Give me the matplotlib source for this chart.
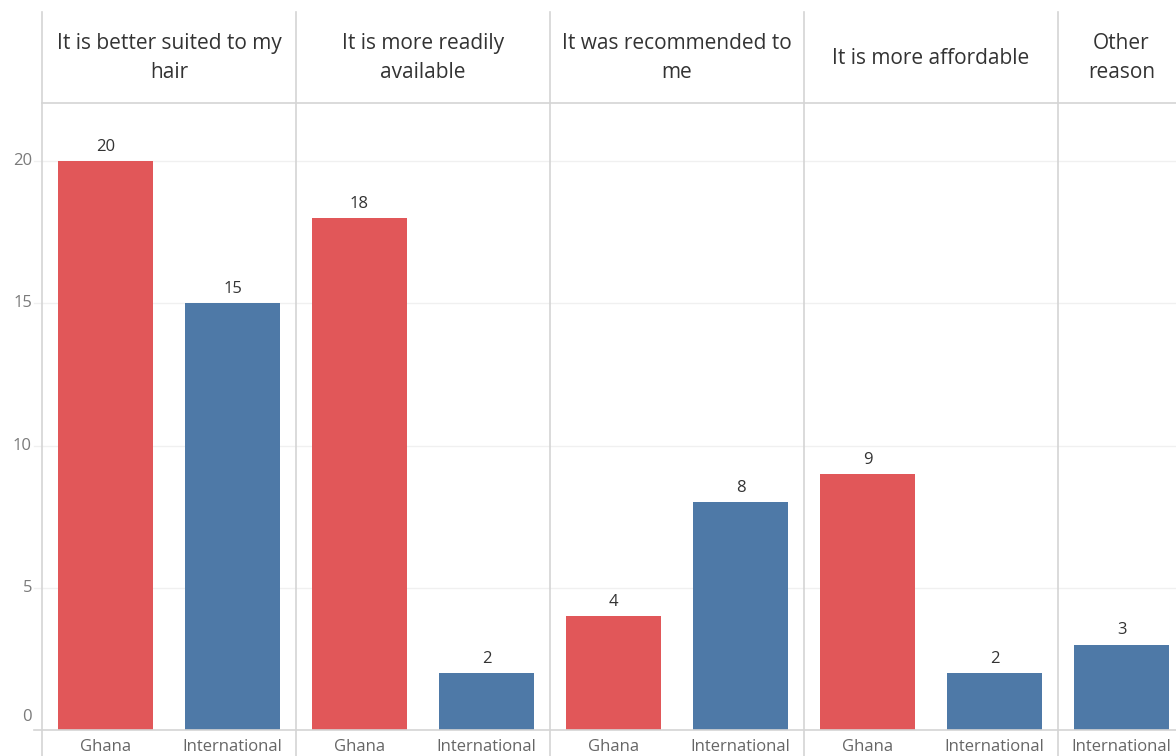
import matplotlib
matplotlib.use("Agg")
import matplotlib.pyplot as plt
from matplotlib.lines import Line2D
from matplotlib.transforms import offset_copy

plt.rcParams['font.family'] = ['Open Sans', 'DejaVu Sans']

# ---- data ----
reasons = ["It is better suited to my hair", "It is more readily available",
           "It was recommended to me", "It is more affordable", "Other reason"]
header_labels = ["It is better suited to my\nhair", "It is more readily\navailable",
                 "It was recommended to\nme", "It is more affordable", "Other\nreason"]
origins = ["Ghana", "International"]
ghana = [20, 18, 4, 9, None]
international = [15, 2, 8, 2, 3]
y_ticks = [0, 5, 10, 15, 20]

colors = {"Ghana": "#E15759", "International": "#4E79A7"}

W, H = 1176, 756
fig = plt.figure(figsize=(W / 100, H / 100), dpi=100)

def fx(px):
    return px / W

def fy(py):
    return 1 - py / H

ax_left, ax_top, ax_bottom = 42, 103, 730
px_per_val = 28.45
ax = fig.add_axes([fx(ax_left), fy(ax_bottom), 1 - fx(ax_left), fy(ax_top) - fy(ax_bottom)])

# build slots
slots = []  # (x, origin, value)
boundaries = [-0.5]
x = 0
panel_centers = []
for i, r in enumerate(reasons):
    start = x
    for o, vals in zip(origins, [ghana, international]):
        v = vals[i]
        if v is None:
            continue
        slots.append((x, o, v))
        x += 1
    boundaries.append(x - 0.5)
    panel_centers.append((start + x - 1) / 2)

px_per_unit = 127.0
xmax = -0.5 + (W - ax_left) / px_per_unit
ymax = (ax_bottom - ax_top) / px_per_val

for xs, o, v in slots:
    ax.bar(xs, v, width=0.75, color=colors[o], zorder=3)
    ax.text(xs, v + 0.5, str(v), ha='center', va='center', fontsize=12, color='#333333', zorder=4)

ax.set_xlim(-0.5, xmax)
ax.set_ylim(0, ymax)
ax.set_yticks([])
ax.set_xticks([])
for t in y_ticks:
    if t > 0:
        ax.axhline(t, color='#f0f0f0', lw=1, zorder=1)
    ty = t if t > 0 else 0.45
    ax.text(-0.5, ty, str(t), transform=offset_copy(ax.transData, fig=fig, x=-10, y=0, units='dots'),
            ha='right', va='center', fontsize=12, color='#7a7a7a', clip_on=False)
    if t > 0:
        fig.add_artist(Line2D([fx(34), fx(ax_left)], [fy(ax_bottom - t * px_per_val)] * 2,
                              color='#f0f0f0', lw=1))
for s in ax.spines.values():
    s.set_visible(False)

# x labels
for xs, o, v in slots:
    ax.text(xs, -(747 - ax_bottom) / px_per_val, o, ha='center', va='center', fontsize=12,
            color='#666666', clip_on=False)

# separators (figure lines)
sep_color = '#d4d4d4'
for b in boundaries:
    xp = ax_left + (b + 0.5) * px_per_unit
    if xp <= W:
        fig.add_artist(Line2D([fx(xp), fx(xp)], [fy(12), fy(H)], color=sep_color, lw=1.2))
# horizontal lines
fig.add_artist(Line2D([fx(ax_left), 1], [fy(ax_top), fy(ax_top)], color=sep_color, lw=1.2))
fig.add_artist(Line2D([fx(34), 1], [fy(ax_bottom), fy(ax_bottom)], color=sep_color, lw=1.2))

# headers
for c, lab in zip(panel_centers, header_labels):
    xp = ax_left + (c + 0.5) * px_per_unit
    fig.text(fx(xp), fy(58), lab, ha='center', va='center', fontsize=15,
             color='#333333', linespacing=1.47)

fig.savefig("out.png", dpi=100, facecolor='white')
